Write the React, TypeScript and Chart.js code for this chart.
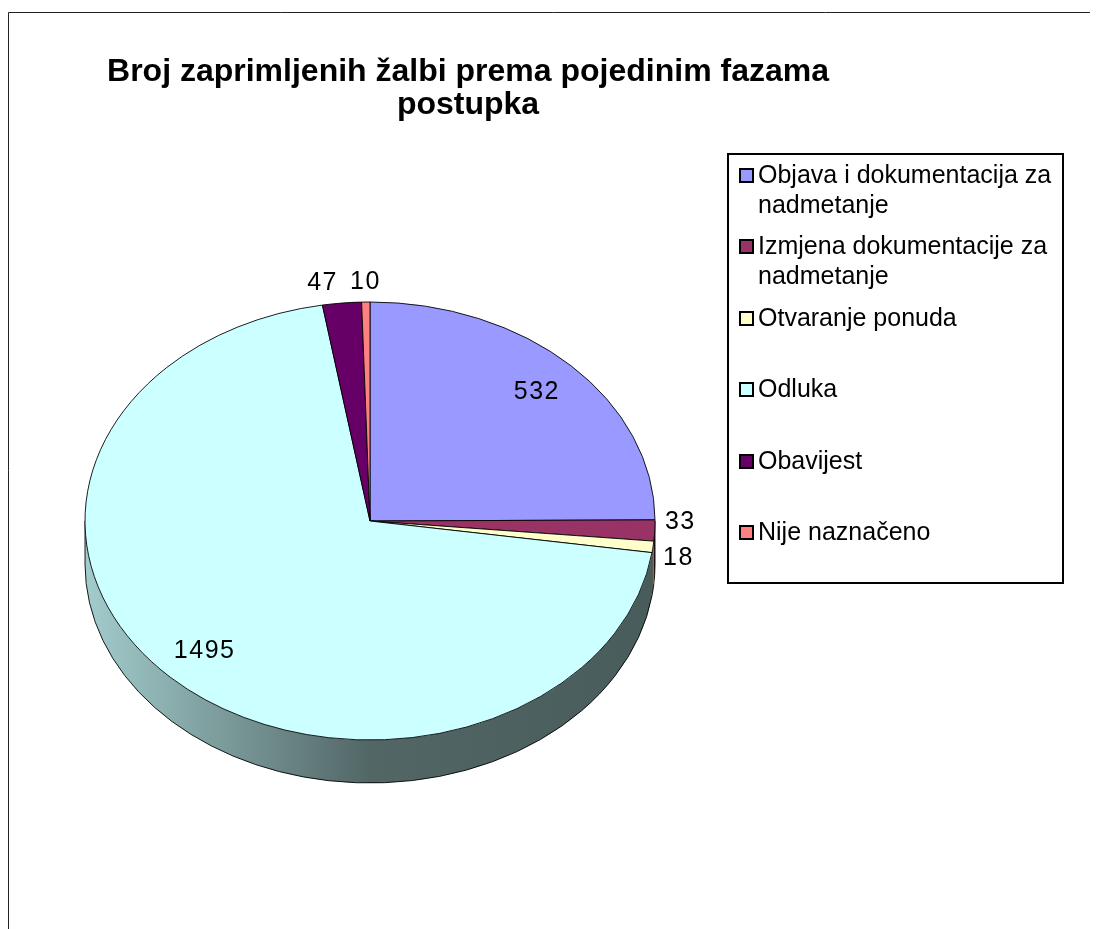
import React, { useEffect, useRef } from "react";
import { Chart, registerables } from "chart.js";

Chart.register(...registerables);

const TITLE_LINES = ["Broj zaprimljenih žalbi prema pojedinim fazama", "postupka"];
const CATEGORIES = [
  "Objava i dokumentacija za nadmetanje",
  "Izmjena dokumentacije za nadmetanje",
  "Otvaranje ponuda",
  "Odluka",
  "Obavijest",
  "Nije naznačeno",
];
const VALUES = [532, 33, 18, 1495, 47, 10];
const COLORS = ["#9999FF", "#993366", "#FFFFCC", "#CCFFFF", "#660066", "#FF8080"];

const W = 1090;
const H = 921;
const CX = 362;
const CY = 513;
const K = 219 / 285;
const DEPTH = 43;
const FONT = "'Liberation Sans', Arial, sans-serif";

function shade(hex: string, f: number) {
  const n = parseInt(hex.slice(1), 16);
  const r = Math.round(((n >> 16) & 255) * f);
  const g = Math.round(((n >> 8) & 255) * f);
  const b = Math.round((n & 255) * f);
  return `rgb(${r},${g},${b})`;
}

const pie3d = {
  id: "pie3d",
  beforeDraw(chart: any) {
    const ctx = chart.ctx;
    ctx.save();
    ctx.fillStyle = "#fff";
    ctx.fillRect(0, 0, W, H);
    ctx.strokeStyle = "#222";
    ctx.lineWidth = 1;
    ctx.beginPath();
    ctx.moveTo(0.5, H);
    ctx.lineTo(0.5, 4.5);
    ctx.lineTo(W, 4.5);
    ctx.stroke();
    // title
    ctx.fillStyle = "#000";
    ctx.font = `bold 32px ${FONT}`;
    ctx.textAlign = "center";
    ctx.textBaseline = "middle";
    ctx.fillText(TITLE_LINES[0], 460, 64);
    ctx.fillText(TITLE_LINES[1], 460, 97);
    ctx.restore();
  },
  beforeDatasetsDraw(chart: any) {
    const ctx = chart.ctx;
    const meta = chart.getDatasetMeta(0);
    const first = meta.data[0] as any;
    const { x, y, outerRadius } = first.getProps(["x", "y", "outerRadius"], true);
    ctx.save();
    ctx.translate(x, y);
    ctx.scale(1, K);
    ctx.translate(-x, -y);
    const d = DEPTH / K;
    meta.data.forEach((arc: any, i: number) => {
      const { startAngle, endAngle } = arc.getProps(["startAngle", "endAngle"], true);
      const s = Math.max(startAngle, 0);
      const e = Math.min(endAngle, Math.PI);
      if (e <= s) return;
      const col = COLORS[i];
      const grad = ctx.createLinearGradient(x - outerRadius, 0, x + outerRadius, 0);
      grad.addColorStop(0, shade(col, 0.8));
      grad.addColorStop(0.5, shade(col, 0.4));
      grad.addColorStop(1, shade(col, 0.36));
      ctx.beginPath();
      ctx.arc(x, y + d, outerRadius, s, e);
      ctx.arc(x, y, outerRadius, e, s, true);
      ctx.closePath();
      ctx.fillStyle = grad;
      ctx.fill();
      ctx.beginPath();
      ctx.arc(x, y + d, outerRadius, s, e);
      ctx.strokeStyle = "#000";
      ctx.lineWidth = 1;
      ctx.stroke();
    });
    ctx.beginPath();
    ctx.moveTo(x - outerRadius, y);
    ctx.lineTo(x - outerRadius, y + d);
    ctx.moveTo(x + outerRadius, y);
    ctx.lineTo(x + outerRadius, y + d);
    ctx.stroke();
  },
  afterDatasetsDraw(chart: any) {
    const ctx = chart.ctx;
    ctx.restore();
    const meta = chart.getDatasetMeta(0);
    const total = VALUES.reduce((a, b) => a + b, 0);
    ctx.save();
    ctx.font = `25px ${FONT}`;
    (ctx as any).letterSpacing = "1.5px";
    ctx.fillStyle = "#000";
    ctx.textAlign = "center";
    ctx.textBaseline = "middle";
    const labels: any[] = [];
    meta.data.forEach((arc: any, i: number) => {
      const { x, y, outerRadius, startAngle, endAngle } = arc.getProps(
        ["x", "y", "outerRadius", "startAngle", "endAngle"],
        true
      );
      const m = (startAngle + endAngle) / 2;
      const inside = VALUES[i] / total > 0.1;
      const f = inside ? 0.83 : 1.09;
      const c = Math.cos(m);
      const sn = Math.sin(m);
      labels.push({
        text: String(VALUES[i]),
        x: x + outerRadius * f * c,
        y: y + outerRadius * K * f * sn,
        c,
        sn,
        inside,
      });
    });
    // simple collision handling for outside labels
    for (let a = 0; a < labels.length; a++) {
      for (let b = a + 1; b < labels.length; b++) {
        const A = labels[a];
        const B = labels[b];
        if (A.inside || B.inside) continue;
        const wa = ctx.measureText(A.text).width;
        const wb = ctx.measureText(B.text).width;
        const needX = (wa + wb) / 2 + 12;
        const needY = 36;
        if (Math.abs(A.x - B.x) < needX && Math.abs(A.y - B.y) < needY) {
          if (Math.abs(B.sn) > 0.7) {
            const [near, far] = Math.abs(B.c) > Math.abs(A.c) ? [A, B] : [B, A];
            far.x = near.x + Math.sign(far.c || -1) * needX;
          } else {
            const mid = (A.y + B.y) / 2;
            const [up, down] = A.y < B.y ? [A, B] : [B, A];
            up.y = mid - needY / 2;
            down.y = mid + needY / 2;
          }
        }
      }
    }
    labels.forEach((l) => ctx.fillText(l.text, l.x, l.y));
    ctx.restore();
  },
  afterDraw(chart: any) {
    const ctx = chart.ctx;
    ctx.save();
    // legend box
    const bx = 720, by = 146, bw = 335, bh = 429;
    ctx.strokeStyle = "#000";
    ctx.lineWidth = 2;
    ctx.strokeRect(bx, by, bw, bh);
    ctx.font = `25px ${FONT}`;
    ctx.textAlign = "left";
    ctx.textBaseline = "middle";
    const rowY = [168, 239, 311, 382, 454, 525];
    const textX = 750;
    const maxW = bx + bw - textX - 4;
    CATEGORIES.forEach((cat, i) => {
      const yy = rowY[i];
      ctx.fillStyle = COLORS[i];
      ctx.fillRect(732, yy - 7, 13, 13);
      ctx.strokeStyle = "#000";
      ctx.lineWidth = 2;
      ctx.strokeRect(732, yy - 7, 13, 13);
      const words = cat.split(" ");
      const lines: string[] = [];
      let cur = "";
      words.forEach((w) => {
        const t = cur ? cur + " " + w : w;
        if (ctx.measureText(t).width > maxW && cur) {
          lines.push(cur);
          cur = w;
        } else cur = t;
      });
      if (cur) lines.push(cur);
      ctx.fillStyle = "#000";
      lines.forEach((ln, j) => ctx.fillText(ln, textX, yy + j * 30));
    });
    ctx.restore();
  },
};

export default function App() {
  const ref = useRef<HTMLCanvasElement | null>(null);
  useEffect(() => {
    if (!ref.current) return;
    const chart = new Chart(ref.current, {
      type: "pie",
      data: {
        labels: CATEGORIES,
        datasets: [
          {
            data: VALUES,
            backgroundColor: COLORS,
            borderColor: "#000",
            borderWidth: 1,
          },
        ],
      },
      options: {
        responsive: false,
        animation: false,
        layout: {
          padding: { left: CX - 285.5, right: W - (CX + 285.5), top: CY - 285.5, bottom: H - (CY + 285.5) },
        },
        plugins: {
          legend: { display: false },
          tooltip: { enabled: false },
          title: { display: false },
        },
      },
      plugins: [pie3d as any],
    });
    return () => chart.destroy();
  }, []);
  return (
    <div style={{ width: W, height: H }}>
      <canvas ref={ref} width={W} height={H} style={{ display: "block", width: W, height: H }} />
    </div>
  );
}
